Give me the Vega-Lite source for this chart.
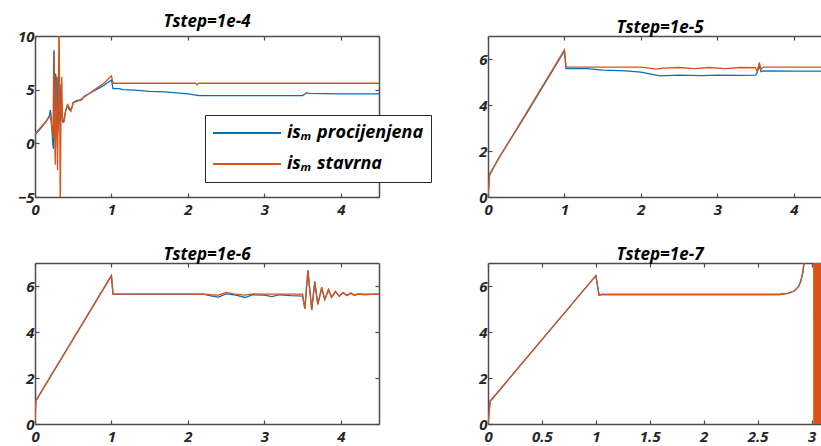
{
  "$schema": "https://vega.github.io/schema/vega-lite/v6.json",
  "padding": {"left": 17, "top": 13, "right": 0, "bottom": 0},
  "columns": 2,
  "spacing": {"row": 66, "column": 109},
  "bounds": "flush",
  "datasets": {
    "d1": [
      {"x":0,"y":0.8,"s":"p"},{"x":0.05,"y":1.2,"s":"p"},{"x":0.1,"y":1.6,"s":"p"},{"x":0.15,"y":2.1,"s":"p"},{"x":0.19,"y":2.6,"s":"p"},{"x":0.2,"y":3.1,"s":"p"},{"x":0.21,"y":2.6,"s":"p"},{"x":0.23,"y":0.2,"s":"p"},{"x":0.24,"y":-0.5,"s":"p"},{"x":0.25,"y":8.7,"s":"p"},{"x":0.26,"y":3.0,"s":"p"},{"x":0.27,"y":6.5,"s":"p"},{"x":0.28,"y":1.5,"s":"p"},{"x":0.29,"y":6.2,"s":"p"},{"x":0.3,"y":1.0,"s":"p"},{"x":0.31,"y":4.0,"s":"p"},{"x":0.32,"y":1.8,"s":"p"},{"x":0.34,"y":5.5,"s":"p"},{"x":0.35,"y":2.5,"s":"p"},{"x":0.37,"y":1.9,"s":"p"},{"x":0.4,"y":3.0,"s":"p"},{"x":0.42,"y":3.5,"s":"p"},{"x":0.45,"y":3.1,"s":"p"},{"x":0.48,"y":3.3,"s":"p"},{"x":0.5,"y":3.8,"s":"p"},{"x":0.55,"y":4.0,"s":"p"},{"x":0.6,"y":4.0,"s":"p"},{"x":0.65,"y":4.4,"s":"p"},{"x":0.7,"y":4.6,"s":"p"},{"x":0.8,"y":5.0,"s":"p"},{"x":0.9,"y":5.4,"s":"p"},{"x":1.0,"y":5.9,"s":"p"},{"x":1.02,"y":5.1,"s":"p"},{"x":1.1,"y":5.1,"s":"p"},{"x":1.15,"y":5.0,"s":"p"},{"x":1.3,"y":4.95,"s":"p"},{"x":1.5,"y":4.85,"s":"p"},{"x":1.7,"y":4.8,"s":"p"},{"x":2.0,"y":4.6,"s":"p"},{"x":2.15,"y":4.45,"s":"p"},{"x":2.5,"y":4.45,"s":"p"},{"x":3.0,"y":4.45,"s":"p"},{"x":3.5,"y":4.45,"s":"p"},{"x":3.55,"y":4.7,"s":"p"},{"x":3.6,"y":4.65,"s":"p"},{"x":4.0,"y":4.6,"s":"p"},{"x":4.5,"y":4.6,"s":"p"},
      {"x":0,"y":0.9,"s":"r"},{"x":0.05,"y":1.3,"s":"r"},{"x":0.1,"y":1.7,"s":"r"},{"x":0.15,"y":2.1,"s":"r"},{"x":0.2,"y":2.6,"s":"r"},{"x":0.22,"y":1.5,"s":"r"},{"x":0.235,"y":0.5,"s":"r"},{"x":0.245,"y":8.5,"s":"r"},{"x":0.255,"y":1.5,"s":"r"},{"x":0.265,"y":-2.0,"s":"r"},{"x":0.275,"y":6.3,"s":"r"},{"x":0.285,"y":1.0,"s":"r"},{"x":0.295,"y":-2.5,"s":"r"},{"x":0.305,"y":4.5,"s":"r"},{"x":0.315,"y":12,"s":"r"},{"x":0.325,"y":1.0,"s":"r"},{"x":0.33,"y":-6,"s":"r"},{"x":0.34,"y":3.0,"s":"r"},{"x":0.35,"y":6.2,"s":"r"},{"x":0.36,"y":2.0,"s":"r"},{"x":0.38,"y":2.0,"s":"r"},{"x":0.4,"y":3.0,"s":"r"},{"x":0.43,"y":3.6,"s":"r"},{"x":0.47,"y":3.0,"s":"r"},{"x":0.5,"y":3.8,"s":"r"},{"x":0.55,"y":3.9,"s":"r"},{"x":0.6,"y":4.1,"s":"r"},{"x":0.7,"y":4.6,"s":"r"},{"x":0.8,"y":5.1,"s":"r"},{"x":0.9,"y":5.6,"s":"r"},{"x":1.0,"y":6.3,"s":"r"},{"x":1.02,"y":5.6,"s":"r"},{"x":2.1,"y":5.6,"s":"r"},{"x":2.12,"y":5.45,"s":"r"},{"x":2.14,"y":5.6,"s":"r"},{"x":4.5,"y":5.6,"s":"r"}
    ],
    "d2": [
      {"x":0,"y":0,"s":"p"},{"x":0.02,"y":0.95,"s":"p"},{"x":0.15,"y":1.75,"s":"p"},{"x":0.5,"y":3.6,"s":"p"},{"x":1.0,"y":6.35,"s":"p"},{"x":1.02,"y":5.58,"s":"p"},{"x":1.3,"y":5.58,"s":"p"},{"x":1.5,"y":5.52,"s":"p"},{"x":1.8,"y":5.48,"s":"p"},{"x":2.0,"y":5.43,"s":"p"},{"x":2.2,"y":5.3,"s":"p"},{"x":2.25,"y":5.27,"s":"p"},{"x":2.5,"y":5.3,"s":"p"},{"x":2.8,"y":5.28,"s":"p"},{"x":3.0,"y":5.3,"s":"p"},{"x":3.3,"y":5.29,"s":"p"},{"x":3.5,"y":5.3,"s":"p"},{"x":3.52,"y":5.4,"s":"p"},{"x":3.55,"y":5.7,"s":"p"},{"x":3.57,"y":5.45,"s":"p"},{"x":3.6,"y":5.48,"s":"p"},{"x":4.0,"y":5.47,"s":"p"},{"x":4.5,"y":5.47,"s":"p"},
      {"x":0,"y":0,"s":"r"},{"x":0.02,"y":1.0,"s":"r"},{"x":0.5,"y":3.65,"s":"r"},{"x":1.0,"y":6.4,"s":"r"},{"x":1.02,"y":5.65,"s":"r"},{"x":2.0,"y":5.65,"s":"r"},{"x":2.1,"y":5.6,"s":"r"},{"x":2.2,"y":5.56,"s":"r"},{"x":2.3,"y":5.6,"s":"r"},{"x":2.5,"y":5.63,"s":"r"},{"x":2.7,"y":5.58,"s":"r"},{"x":2.9,"y":5.63,"s":"r"},{"x":3.1,"y":5.58,"s":"r"},{"x":3.3,"y":5.63,"s":"r"},{"x":3.5,"y":5.62,"s":"r"},{"x":3.52,"y":5.45,"s":"r"},{"x":3.55,"y":5.85,"s":"r"},{"x":3.57,"y":5.55,"s":"r"},{"x":3.6,"y":5.65,"s":"r"},{"x":4.5,"y":5.65,"s":"r"}
    ],
    "d3": [
      {"x":0,"y":0,"s":"p"},{"x":0.01,"y":1.0,"s":"p"},{"x":1.0,"y":6.45,"s":"p"},{"x":1.02,"y":5.65,"s":"p"},{"x":2.2,"y":5.65,"s":"p"},{"x":2.3,"y":5.57,"s":"p"},{"x":2.4,"y":5.52,"s":"p"},{"x":2.5,"y":5.66,"s":"p"},{"x":2.6,"y":5.62,"s":"p"},{"x":2.75,"y":5.5,"s":"p"},{"x":2.85,"y":5.62,"s":"p"},{"x":3.0,"y":5.6,"s":"p"},{"x":3.1,"y":5.54,"s":"p"},{"x":3.2,"y":5.62,"s":"p"},{"x":3.35,"y":5.58,"s":"p"},{"x":3.45,"y":5.57,"s":"p"},{"x":3.5,"y":5.56,"s":"p"},{"x":3.53,"y":5.02,"s":"p"},{"x":3.57,"y":6.65,"s":"p"},{"x":3.62,"y":4.98,"s":"p"},{"x":3.66,"y":6.2,"s":"p"},{"x":3.7,"y":5.2,"s":"p"},{"x":3.75,"y":5.9,"s":"p"},{"x":3.79,"y":5.42,"s":"p"},{"x":3.84,"y":5.83,"s":"p"},{"x":3.88,"y":5.52,"s":"p"},{"x":3.93,"y":5.75,"s":"p"},{"x":3.98,"y":5.56,"s":"p"},{"x":4.03,"y":5.7,"s":"p"},{"x":4.08,"y":5.6,"s":"p"},{"x":4.13,"y":5.68,"s":"p"},{"x":4.18,"y":5.6,"s":"p"},{"x":4.23,"y":5.66,"s":"p"},{"x":4.3,"y":5.63,"s":"p"},{"x":4.5,"y":5.65,"s":"p"},
      {"x":0,"y":0,"s":"r"},{"x":0.01,"y":1.0,"s":"r"},{"x":1.0,"y":6.45,"s":"r"},{"x":1.02,"y":5.65,"s":"r"},{"x":2.2,"y":5.65,"s":"r"},{"x":2.3,"y":5.62,"s":"r"},{"x":2.4,"y":5.6,"s":"r"},{"x":2.5,"y":5.72,"s":"r"},{"x":2.6,"y":5.66,"s":"r"},{"x":2.75,"y":5.6,"s":"r"},{"x":2.85,"y":5.66,"s":"r"},{"x":3.0,"y":5.65,"s":"r"},{"x":3.5,"y":5.65,"s":"r"},{"x":3.53,"y":5.0,"s":"r"},{"x":3.57,"y":6.7,"s":"r"},{"x":3.62,"y":4.95,"s":"r"},{"x":3.66,"y":6.15,"s":"r"},{"x":3.7,"y":5.2,"s":"r"},{"x":3.75,"y":5.95,"s":"r"},{"x":3.79,"y":5.4,"s":"r"},{"x":3.84,"y":5.85,"s":"r"},{"x":3.88,"y":5.5,"s":"r"},{"x":3.93,"y":5.78,"s":"r"},{"x":3.98,"y":5.55,"s":"r"},{"x":4.03,"y":5.72,"s":"r"},{"x":4.08,"y":5.58,"s":"r"},{"x":4.13,"y":5.7,"s":"r"},{"x":4.18,"y":5.6,"s":"r"},{"x":4.23,"y":5.66,"s":"r"},{"x":4.3,"y":5.63,"s":"r"},{"x":4.5,"y":5.65,"s":"r"}
    ],
    "d4": [
      {"x":0,"y":0,"s":"p"},{"x":0.02,"y":1.0,"s":"p"},{"x":0.04,"y":1.1,"s":"p"},{"x":1.0,"y":6.45,"s":"p"},{"x":1.03,"y":5.6,"s":"p"},{"x":1.05,"y":5.63,"s":"p"},{"x":2.7,"y":5.63,"s":"p"},{"x":2.78,"y":5.68,"s":"p"},{"x":2.84,"y":5.78,"s":"p"},{"x":2.88,"y":5.98,"s":"p"},{"x":2.9,"y":6.2,"s":"p"},{"x":2.92,"y":6.6,"s":"p"},{"x":2.935,"y":7.2,"s":"p"},{"x":2.95,"y":8.5,"s":"p"},{"x":3.0,"y":12,"s":"p"},
      {"x":0,"y":0,"s":"r"},{"x":0.02,"y":1.0,"s":"r"},{"x":0.04,"y":1.1,"s":"r"},{"x":1.0,"y":6.45,"s":"r"},{"x":1.03,"y":5.6,"s":"r"},{"x":1.05,"y":5.63,"s":"r"},{"x":2.7,"y":5.63,"s":"r"},{"x":2.78,"y":5.68,"s":"r"},{"x":2.84,"y":5.78,"s":"r"},{"x":2.88,"y":5.98,"s":"r"},{"x":2.9,"y":6.2,"s":"r"},{"x":2.92,"y":6.6,"s":"r"},{"x":2.935,"y":7.2,"s":"r"},{"x":2.95,"y":8.5,"s":"r"},{"x":2.97,"y":10,"s":"r"},{"x":3.0,"y":14,"s":"r"},{"x":3.02,"y":14,"s":"r"},{"x":3.022,"y":-2,"s":"r"},
      {"x":3.0245,"y":9,"s":"r"},{"x":3.027,"y":-2,"s":"r"},{"x":3.0295,"y":9,"s":"r"},{"x":3.032,"y":-2,"s":"r"},{"x":3.0345,"y":9,"s":"r"},{"x":3.037,"y":-2,"s":"r"},{"x":3.0395,"y":9,"s":"r"},{"x":3.042,"y":-2,"s":"r"},{"x":3.0445,"y":9,"s":"r"},{"x":3.047,"y":-2,"s":"r"},{"x":3.0495,"y":9,"s":"r"},{"x":3.052,"y":-2,"s":"r"},{"x":3.0545,"y":9,"s":"r"},{"x":3.057,"y":-2,"s":"r"},{"x":3.0595,"y":9,"s":"r"},{"x":3.062,"y":-2,"s":"r"},{"x":3.0645,"y":9,"s":"r"},{"x":3.067,"y":-2,"s":"r"},{"x":3.0695,"y":9,"s":"r"},{"x":3.072,"y":-2,"s":"r"},{"x":3.0745,"y":9,"s":"r"},{"x":3.077,"y":-2,"s":"r"},{"x":3.0795,"y":9,"s":"r"},{"x":3.082,"y":-2,"s":"r"},{"x":3.0845,"y":9,"s":"r"},{"x":3.087,"y":-2,"s":"r"},{"x":3.0895,"y":9,"s":"r"},{"x":3.092,"y":-2,"s":"r"},{"x":3.0945,"y":9,"s":"r"},{"x":3.097,"y":-2,"s":"r"},{"x":3.0995,"y":9,"s":"r"},{"x":3.102,"y":-2,"s":"r"},{"x":3.1045,"y":9,"s":"r"},{"x":3.107,"y":-2,"s":"r"}
    ]
  },
  "concat": [
    {
      "title": "Tstep=1e-4",
      "width": 344, "height": 161,
      "data": {"name": "d1"},
      "layer": [
        {"transform": [{"filter": "datum.s == 'p'"}],
         "mark": {"type": "line", "clip": true, "strokeWidth": 1.3},
         "encoding": {
           "x": {"field": "x", "type": "quantitative", "scale": {"domain": [0, 4.5], "nice": false, "zero": false}, "axis": {"orient": "bottom", "values": [0,1,2,3,4], "format": "~r"}},
           "y": {"field": "y", "type": "quantitative", "scale": {"domain": [-5, 10], "nice": false, "zero": false}, "axis": {"orient": "left", "values": [-5,0,5,10], "format": "~r"}},
           "color": {"field": "s", "type": "nominal", "scale": {"domain": ["p","r"], "range": ["#0072BD","#D95319"]}, "legend": {"title": null, "labelExpr": "datum.value == 'p' ? 'isₘ procijenjena' : 'isₘ stavrna'"}}
         }},
        {"transform": [{"filter": "datum.s == 'r'"}],
         "mark": {"type": "line", "clip": true, "strokeWidth": 1.3},
         "encoding": {
           "x": {"field": "x", "type": "quantitative", "scale": {"domain": [0, 4.5], "nice": false, "zero": false}, "axis": {"orient": "top", "values": [0,1,2,3,4], "labels": false}},
           "y": {"field": "y", "type": "quantitative", "scale": {"domain": [-5, 10], "nice": false, "zero": false}, "axis": {"orient": "right", "values": [-5,0,5,10], "labels": false}},
           "color": {"field": "s", "type": "nominal", "scale": {"domain": ["p","r"], "range": ["#0072BD","#D95319"]}, "legend": {"title": null, "labelExpr": "datum.value == 'p' ? 'isₘ procijenjena' : 'isₘ stavrna'"}}
         }}
      ],
      "resolve": {"axis": {"x": "independent", "y": "independent"}}
    },
    {
      "title": "Tstep=1e-5",
      "width": 344, "height": 161,
      "data": {"name": "d2"},
      "layer": [
        {"transform": [{"filter": "datum.s == 'p'"}],
         "mark": {"type": "line", "clip": true, "strokeWidth": 1.3},
         "encoding": {
           "x": {"field": "x", "type": "quantitative", "scale": {"domain": [0, 4.5], "nice": false, "zero": false}, "axis": {"orient": "bottom", "values": [0,1,2,3,4], "format": "~r"}},
           "y": {"field": "y", "type": "quantitative", "scale": {"domain": [0, 7], "nice": false, "zero": false}, "axis": {"orient": "left", "values": [0,2,4,6], "format": "~r"}},
           "color": {"field": "s", "type": "nominal", "scale": {"domain": ["p","r"], "range": ["#0072BD","#D95319"]}, "legend": {"title": null, "labelExpr": "datum.value == 'p' ? 'isₘ procijenjena' : 'isₘ stavrna'"}}
         }},
        {"transform": [{"filter": "datum.s == 'r'"}],
         "mark": {"type": "line", "clip": true, "strokeWidth": 1.3},
         "encoding": {
           "x": {"field": "x", "type": "quantitative", "scale": {"domain": [0, 4.5], "nice": false, "zero": false}, "axis": {"orient": "top", "values": [0,1,2,3,4], "labels": false}},
           "y": {"field": "y", "type": "quantitative", "scale": {"domain": [0, 7], "nice": false, "zero": false}, "axis": {"orient": "right", "values": [0,2,4,6], "labels": false}},
           "color": {"field": "s", "type": "nominal", "scale": {"domain": ["p","r"], "range": ["#0072BD","#D95319"]}, "legend": {"title": null, "labelExpr": "datum.value == 'p' ? 'isₘ procijenjena' : 'isₘ stavrna'"}}
         }}
      ],
      "resolve": {"axis": {"x": "independent", "y": "independent"}}
    },
    {
      "title": "Tstep=1e-6",
      "width": 344, "height": 161,
      "data": {"name": "d3"},
      "layer": [
        {"transform": [{"filter": "datum.s == 'p'"}],
         "mark": {"type": "line", "clip": true, "strokeWidth": 1.3},
         "encoding": {
           "x": {"field": "x", "type": "quantitative", "scale": {"domain": [0, 4.5], "nice": false, "zero": false}, "axis": {"orient": "bottom", "values": [0,1,2,3,4], "format": "~r"}},
           "y": {"field": "y", "type": "quantitative", "scale": {"domain": [0, 7], "nice": false, "zero": false}, "axis": {"orient": "left", "values": [0,2,4,6], "format": "~r"}},
           "color": {"field": "s", "type": "nominal", "scale": {"domain": ["p","r"], "range": ["#0072BD","#D95319"]}, "legend": {"title": null, "labelExpr": "datum.value == 'p' ? 'isₘ procijenjena' : 'isₘ stavrna'"}}
         }},
        {"transform": [{"filter": "datum.s == 'r'"}],
         "mark": {"type": "line", "clip": true, "strokeWidth": 1.3},
         "encoding": {
           "x": {"field": "x", "type": "quantitative", "scale": {"domain": [0, 4.5], "nice": false, "zero": false}, "axis": {"orient": "top", "values": [0,1,2,3,4], "labels": false}},
           "y": {"field": "y", "type": "quantitative", "scale": {"domain": [0, 7], "nice": false, "zero": false}, "axis": {"orient": "right", "values": [0,2,4,6], "labels": false}},
           "color": {"field": "s", "type": "nominal", "scale": {"domain": ["p","r"], "range": ["#0072BD","#D95319"]}, "legend": {"title": null, "labelExpr": "datum.value == 'p' ? 'isₘ procijenjena' : 'isₘ stavrna'"}}
         }}
      ],
      "resolve": {"axis": {"x": "independent", "y": "independent"}}
    },
    {
      "title": "Tstep=1e-7",
      "width": 344, "height": 161,
      "data": {"name": "d4"},
      "layer": [
        {"transform": [{"filter": "datum.s == 'p'"}],
         "mark": {"type": "line", "clip": true, "strokeWidth": 1.3},
         "encoding": {
           "x": {"field": "x", "type": "quantitative", "scale": {"domain": [0, 3.19], "nice": false, "zero": false}, "axis": {"orient": "bottom", "values": [0,0.5,1,1.5,2,2.5,3], "format": "~r"}},
           "y": {"field": "y", "type": "quantitative", "scale": {"domain": [0, 7], "nice": false, "zero": false}, "axis": {"orient": "left", "values": [0,2,4,6], "format": "~r"}},
           "color": {"field": "s", "type": "nominal", "scale": {"domain": ["p","r"], "range": ["#0072BD","#D95319"]}, "legend": {"title": null, "labelExpr": "datum.value == 'p' ? 'isₘ procijenjena' : 'isₘ stavrna'"}}
         }},
        {"transform": [{"filter": "datum.s == 'r'"}],
         "mark": {"type": "line", "clip": true, "strokeWidth": 1.3},
         "encoding": {
           "x": {"field": "x", "type": "quantitative", "scale": {"domain": [0, 3.19], "nice": false, "zero": false}, "axis": {"orient": "top", "values": [0,0.5,1,1.5,2,2.5,3], "labels": false}},
           "y": {"field": "y", "type": "quantitative", "scale": {"domain": [0, 7], "nice": false, "zero": false}, "axis": {"orient": "right", "values": [0,2,4,6], "labels": false}},
           "color": {"field": "s", "type": "nominal", "scale": {"domain": ["p","r"], "range": ["#0072BD","#D95319"]}, "legend": {"title": null, "labelExpr": "datum.value == 'p' ? 'isₘ procijenjena' : 'isₘ stavrna'"}}
         }}
      ],
      "resolve": {"axis": {"x": "independent", "y": "independent"}}
    }
  ],
  "config": {
    "view": {"stroke": null},
    "font": "Open Sans",
    "axis": {"grid": false, "title": null, "domainColor": "#4d4d4d", "domainWidth": 1.5, "tickColor": "#4d4d4d", "tickWidth": 1.2, "tickSize": -4, "labelFont": "Open Sans", "labelFontSize": 15, "labelFontWeight": "bold", "labelFontStyle": "italic", "labelColor": "#262626", "labelFlush": false},
    "axisX": {"labelPadding": 9},
    "axisY": {"labelPadding": 5},
    "title": {"font": "Open Sans", "fontSize": 17, "fontWeight": "bold", "fontStyle": "italic", "color": "#000000", "offset": -2},
    "legend": {"orient": "none", "legendX": 170, "legendY": 79, "symbolType": "stroke", "symbolSize": 4624, "symbolStrokeWidth": 2, "clipHeight": 22, "rowPadding": 9, "padding": 7, "labelOffset": 5, "labelFont": "Open Sans", "labelFontSize": 18, "labelFontWeight": "bold", "labelFontStyle": "italic", "labelColor": "#000000", "strokeColor": "#262626", "fillColor": "#ffffff"}
  }
}
